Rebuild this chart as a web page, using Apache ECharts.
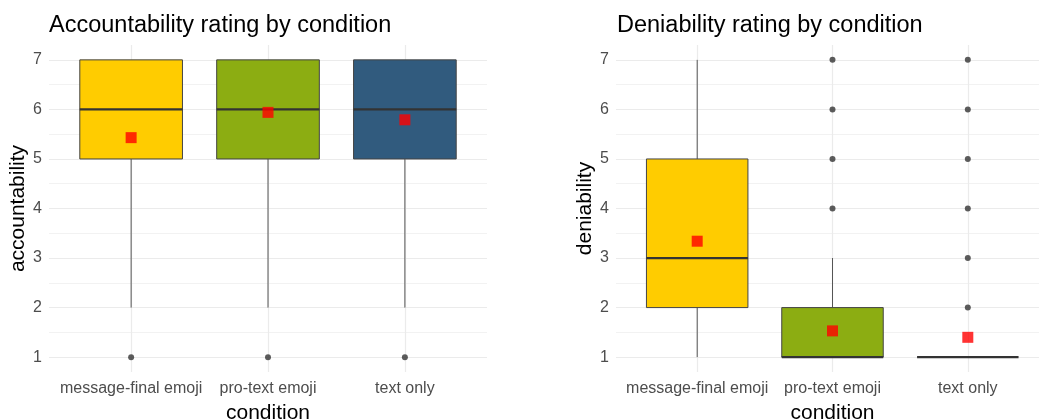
<!DOCTYPE html>
<html><head><meta charset="utf-8">
<script src="https://cdn.jsdelivr.net/npm/echarts@6/dist/echarts.min.js"></script>
<style>html,body{margin:0;padding:0;background:#fff}#c{width:1039px;height:419px}</style>
</head><body><div id="c"></div>
<script>
const categories = ['message-final emoji', 'pro-text emoji', 'text only'];
const yTicks = [1, 2, 3, 4, 5, 6, 7];
const yMinorTicks = [1.5, 2.5, 3.5, 4.5, 5.5, 6.5];
const fillColors = ['#FFCC00', '#8CAD12', '#315B7E'];
// [lowerWhisker, Q1, median, Q3, upperWhisker]
const accBoxes = [[2, 5, 6, 7, 7], [2, 5, 6, 7, 7], [2, 5, 6, 7, 7]];
const accMeans = [5.43, 5.94, 5.79];
const accOutliers = [[1, 1], [2, 1], [3, 1]];
const denBoxes = [[1, 2, 3, 5, 7], [1, 1, 1, 2, 3], [1, 1, 1, 1, 1]];
const denMeans = [3.34, 1.53, 1.40];
const denOutliers = [[2, 4], [2, 5], [2, 6], [2, 7], [3, 2], [3, 3], [3, 4], [3, 5], [3, 6], [3, 7]];

const FONT = 'Liberation Sans, Arial, sans-serif';
const chart = echarts.init(document.getElementById('c'), null, {renderer: 'canvas'});

function renderBox(params, api) {
  const x = api.value(0);
  const lo = api.value(1), q1 = api.value(2), md = api.value(3), q3 = api.value(4), hi = api.value(5);
  const half = api.size([0.75, 0])[0] / 2;
  const pLo = api.coord([x, lo]), pQ1 = api.coord([x, q1]), pMd = api.coord([x, md]);
  const pQ3 = api.coord([x, q3]), pHi = api.coord([x, hi]);
  const cx = pLo[0];
  const children = [];
  if (hi > q3) children.push({type: 'line', shape: {x1: cx, y1: pQ3[1], x2: cx, y2: pHi[1]}, style: {stroke: '#555', lineWidth: 1}});
  if (lo < q1) children.push({type: 'line', shape: {x1: cx, y1: pLo[1], x2: cx, y2: pQ1[1]}, style: {stroke: '#555', lineWidth: 1}});
  if (q3 > q1) children.push({type: 'rect', shape: {x: cx - half, y: pQ3[1], width: 2 * half, height: pQ1[1] - pQ3[1]}, style: {fill: fillColors[params.dataIndex], stroke: '#444', lineWidth: 1}});
  children.push({type: 'line', shape: {x1: cx - half, y1: pMd[1], x2: cx + half, y2: pMd[1]}, style: {stroke: '#333', lineWidth: 2.2}});
  return {type: 'group', children};
}

function xAxisFor(gi) {
  return {
    type: 'value', gridIndex: gi, min: 0.4, max: 3.6,
    name: 'condition', nameLocation: 'middle', nameGap: 31,
    nameTextStyle: {fontSize: 21, color: '#000', fontFamily: FONT},
    axisLine: {show: false},
    axisTick: {show: false, customValues: [1, 2, 3]},
    axisLabel: {customValues: [1, 2, 3], formatter: v => categories[Math.round(v) - 1], fontSize: 16, color: '#4d4d4d', fontFamily: FONT, margin: 9},
    splitLine: {show: true, lineStyle: {color: '#ebebeb', width: 1.2}}
  };
}
function yAxisMajor(gi, name) {
  return {
    type: 'value', gridIndex: gi, min: 0.7, max: 7.3,
    name: name, nameLocation: 'middle', nameGap: 17,
    nameTextStyle: {fontSize: 21, color: '#000', fontFamily: FONT},
    axisLine: {show: false},
    axisTick: {show: false, customValues: yTicks},
    axisLabel: {customValues: yTicks, fontSize: 16, color: '#4d4d4d', fontFamily: FONT, margin: 7},
    splitLine: {show: true, lineStyle: {color: '#ebebeb', width: 1.2}}
  };
}
function yAxisMinor(gi) {
  return {
    type: 'value', gridIndex: gi, min: 0.7, max: 7.3, position: 'left',
    axisLine: {show: false},
    axisTick: {show: false, customValues: yMinorTicks},
    axisLabel: {show: false, customValues: yMinorTicks},
    splitLine: {show: true, lineStyle: {color: '#f2f2f2', width: 1}}
  };
}
function seriesFor(boxes, means, outliers, xi, yi) {
  return [
    {type: 'custom', xAxisIndex: xi, yAxisIndex: yi, renderItem: renderBox, z: 2,
     encode: {x: 0, y: [1, 2, 3, 4, 5]},
     data: boxes.map((b, i) => [i + 1].concat(b))},
    {type: 'scatter', xAxisIndex: xi, yAxisIndex: yi, symbol: 'circle', symbolSize: 6, z: 3,
     itemStyle: {color: '#333'}, data: outliers},
    {type: 'scatter', xAxisIndex: xi, yAxisIndex: yi, symbol: 'rect', symbolSize: 11, z: 4,
     itemStyle: {color: '#FF0000'}, data: means.map((m, i) => [i + 1, m])}
  ];
}

chart.setOption({
  animation: false,
  backgroundColor: '#fff',
  title: [
    {text: 'Accountability rating by condition', left: 49, top: 14, padding: 0, textStyle: {fontSize: 23.5, fontWeight: 'normal', color: '#000', fontFamily: FONT}},
    {text: 'Deniability rating by condition', left: 617, top: 14, padding: 0, textStyle: {fontSize: 23.5, fontWeight: 'normal', color: '#000', fontFamily: FONT}}
  ],
  grid: [
    {left: 49, right: 552, top: 45, bottom: 47, outerBoundsMode: 'none', containLabel: false},
    {left: 616, right: -10, top: 45, bottom: 47, outerBoundsMode: 'none', containLabel: false}
  ],
  xAxis: [xAxisFor(0), xAxisFor(1)],
  yAxis: [yAxisMajor(0, 'accountability'), yAxisMinor(0), yAxisMajor(1, 'deniability'), yAxisMinor(1)],
  series: [].concat(
    seriesFor(accBoxes, accMeans, accOutliers, 0, 0),
    seriesFor(denBoxes, denMeans, denOutliers, 1, 2)
  )
});
</script></body></html>
